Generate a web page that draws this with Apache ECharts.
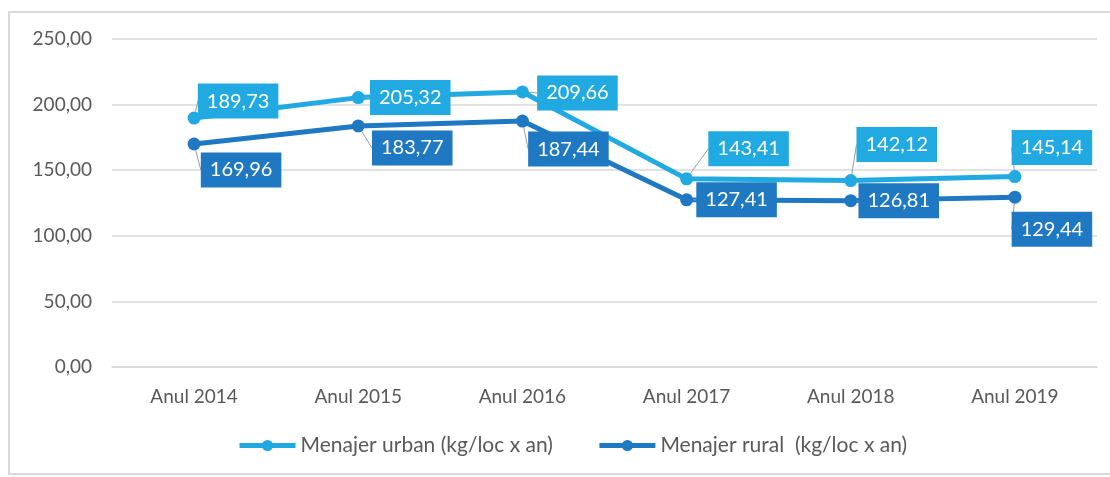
<!DOCTYPE html>
<html>
<head>
<meta charset="utf-8">
<script src="https://cdn.jsdelivr.net/npm/echarts@6/dist/echarts.min.js"></script>
<style>
  html, body { margin: 0; padding: 0; background: #fff; }
  #chart { width: 1110px; height: 477px; }
</style>
</head>
<body>
<div id="chart"></div>
<script>
// date
const years = ["Anul 2014", "Anul 2015", "Anul 2016", "Anul 2017", "Anul 2018", "Anul 2019"];
const urbanName = "Menajer urban (kg/loc x an)";
const ruralName = "Menajer rural  (kg/loc x an)";
const urbanValues = [189.73, 205.32, 209.66, 143.41, 142.12, 145.14];
const ruralValues = [169.96, 183.77, 187.44, 127.41, 126.81, 129.44];
const yTicks = { min: 0, max: 250, interval: 50 };

// deplasarea etichetelor fata de punct (doar aspect)
const urbanLabelShift = [[44, -17], [52, 0], [55, 1], [62, -30], [46, -36], [37, -29]];
const ruralLabelShift = [[47, 26], [54, 22], [46, 28], [50, 0], [48, 0], [37, 32]];

const urbanColor = "#21A9E1";
const ruralColor = "#1F78C2";
const textColor = "#595959";
const gridColor = "#D9D9D9";
const font = "Lato, 'Open Sans', sans-serif";

const fmt = (v) => Number(v).toFixed(2).replace(".", ",");

const chart = echarts.init(document.getElementById("chart"));

function lineSeries(name, data, color, shifts) {
  return {
    name,
    type: "line",
    data,
    symbol: "circle",
    symbolSize: 13,
    lineStyle: { width: 5, color },
    itemStyle: { color },
    label: {
      show: true,
      position: "inside",
      formatter: (p) => fmt(p.value),
      color: "#fff",
      fontFamily: font,
      fontSize: 20,
      backgroundColor: color,
      padding: [8, 9, 7, 9]
    },
    labelLine: { show: true, lineStyle: { color: "#9A9A9A", width: 1 } },
    labelLayout: (p) => ({ dx: shifts[p.dataIndex][0], dy: shifts[p.dataIndex][1] })
  };
}

const option = {
  animation: false,
  textStyle: { fontFamily: font },
  graphic: [{
    type: "rect",
    shape: { x: 9, y: 12, width: 1110, height: 462 },
    style: { fill: "none", stroke: gridColor, lineWidth: 2 },
    silent: true
  }],
  grid: { left: 112, right: 13, top: 39, bottom: 110 },
  legend: {
    bottom: 16,
    left: 232,
    itemWidth: 56,
    itemHeight: 14,
    itemGap: 44,
    lineStyle: { width: 5 },
    textStyle: { color: textColor, fontSize: 21, fontFamily: font },
    data: [urbanName, ruralName]
  },
  xAxis: {
    type: "category",
    data: years,
    axisLine: { lineStyle: { color: gridColor, width: 1.5 } },
    axisTick: { show: false },
    axisLabel: { color: textColor, fontSize: 19, fontFamily: font, margin: 20 }
  },
  yAxis: {
    type: "value",
    min: yTicks.min,
    max: yTicks.max,
    interval: yTicks.interval,
    axisLine: { show: false },
    axisTick: { show: false },
    splitLine: { lineStyle: { color: gridColor, width: 1.5 } },
    axisLabel: { color: textColor, fontSize: 19, fontFamily: font, margin: 20, formatter: fmt }
  },
  series: [
    lineSeries(urbanName, urbanValues, urbanColor, urbanLabelShift),
    lineSeries(ruralName, ruralValues, ruralColor, ruralLabelShift)
  ]
};

chart.setOption(option);
</script>
</body>
</html>
